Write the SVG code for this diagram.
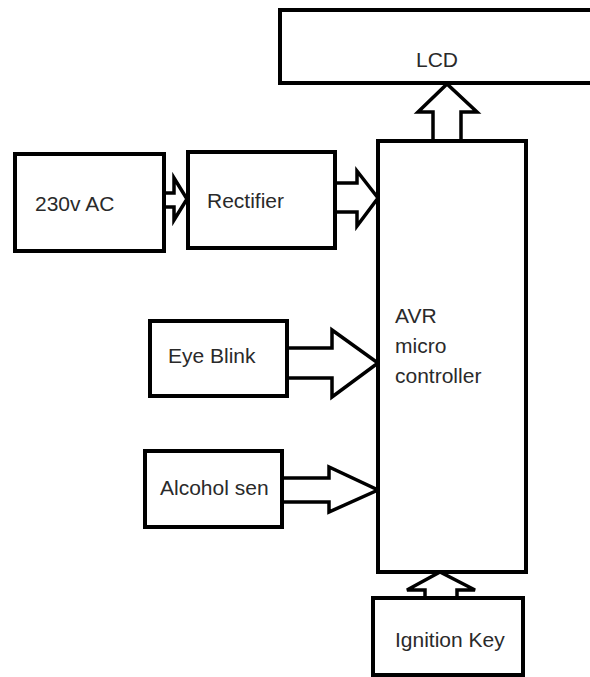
<svg xmlns="http://www.w3.org/2000/svg" width="590" height="677" viewBox="0 0 590 677">
<style>
.box{fill:#fff;stroke:#000;stroke-width:4}
.arr{fill:#fff;stroke:#000;stroke-width:3.5;stroke-linejoin:miter}
.lbl{font-family:"Liberation Sans",Arial,sans-serif;font-size:21px;fill:#2a2a2a}
</style>
<rect width="590" height="677" fill="#fff"/>
<g id="connectors">
<polygon class="arr" points="164,193 174,193 174,178 187,199 174,220 174,207 164,207"/>
<polygon class="arr" points="335,183 357,183 357,171 378,198 357,226 357,212 335,212"/>
<polygon class="arr" points="287,348 332,348 332,330 378,363 332,397 332,378 287,378"/>
<polygon class="arr" points="282,478 329,478 329,467 378,490 329,512 329,502 282,502"/>
<polygon class="arr" points="433,141 433,112 418,112 447,84 477,112 461,112 461,141"/>
<polygon class="arr" points="425,598 425,590 407,590 440,572 475,590 457,590 457,598"/>
</g>
<g id="lcd">
<rect class="box" x="280" y="10" width="330" height="73"/>
<text class="lbl" x="416" y="67">LCD</text>
</g>
<g id="ac">
<rect class="box" x="15" y="154" width="149" height="97"/>
<text class="lbl" x="35" y="211">230v AC</text>
</g>
<g id="rectifier">
<rect class="box" x="188" y="152" width="147" height="96"/>
<text class="lbl" x="207" y="208">Rectifier</text>
</g>
<g id="mcu">
<rect class="box" x="378" y="141" width="148" height="431"/>
<text class="lbl" x="395" y="323">AVR</text>
<text class="lbl" x="395" y="353">micro</text>
<text class="lbl" x="395" y="383">controller</text>
</g>
<g id="eyeblink">
<rect class="box" x="150" y="321" width="137" height="75"/>
<text class="lbl" x="168" y="363">Eye Blink</text>
</g>
<g id="alcohol">
<rect class="box" x="145" y="451" width="137" height="76"/>
<text class="lbl" x="160" y="495">Alcohol sen</text>
</g>
<g id="ignition">
<rect class="box" x="373" y="598" width="150" height="77"/>
<text class="lbl" x="395" y="647">Ignition Key</text>
</g>
</svg>
